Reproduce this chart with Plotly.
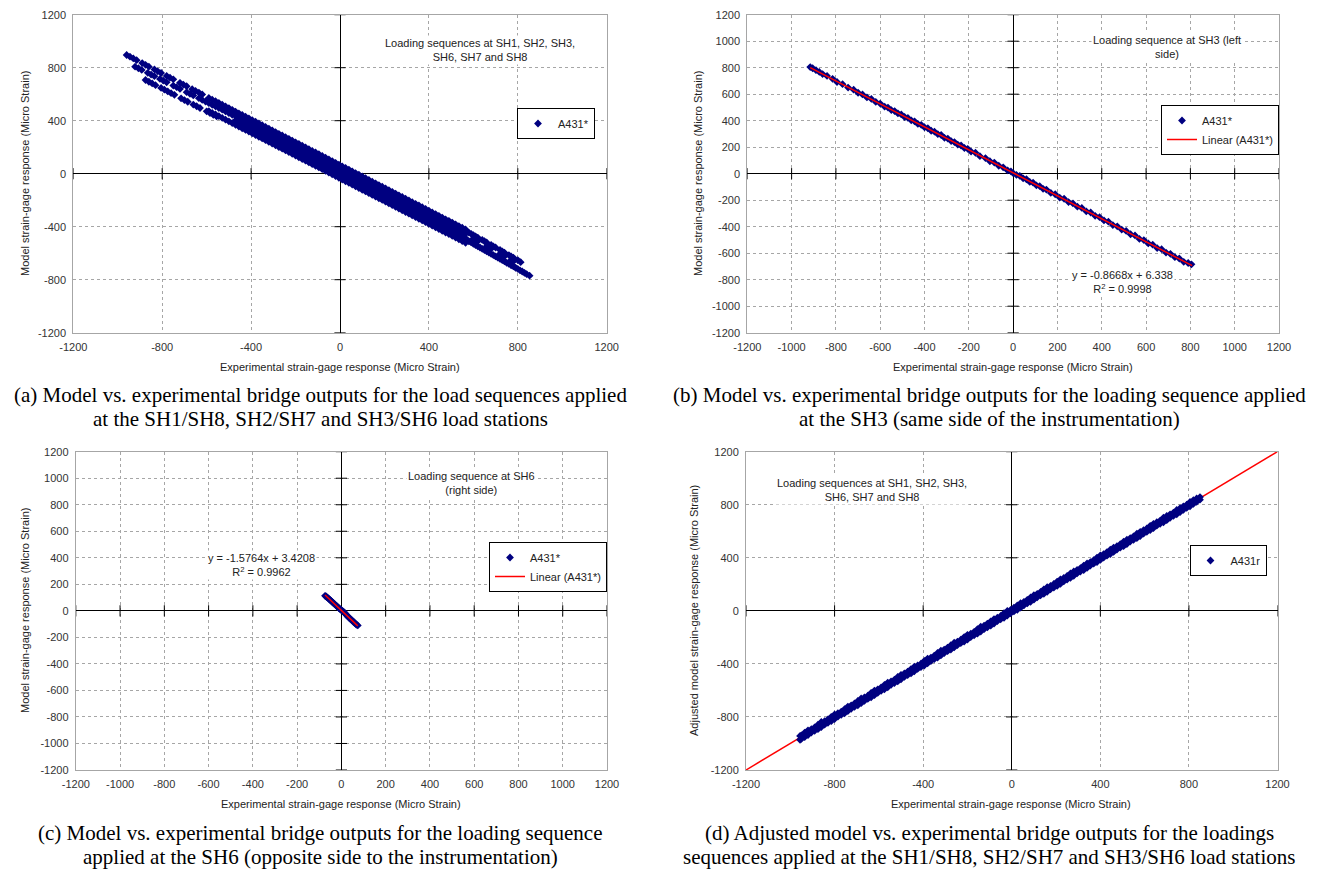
import plotly.graph_objects as go

W, H = 1324, 870

# ---------------- data ----------------
TICKS_400 = [-1200, -800, -400, 0, 400, 800, 1200]
TICKS_200 = [-1200, -1000, -800, -600, -400, -200, 0, 200, 400, 600, 800, 1000, 1200]

# (a) A431* -- three dashed strands at the upper left
a_s1_x = [-960, -945, -930, -915, -890, -875, -860, -835, -820, -805, -780, -765, -750, -720, -705, -690, -665, -650, -635, -620]
a_s1_y = [896, 883, 870, 857, 835, 822, 808, 787, 773, 760, 738, 725, 712, 686, 673, 660, 638, 625, 612, 598]
a_s2_x = [-922, -907, -892, -865, -850, -835, -810, -795, -780, -750, -735, -720, -690, -675, -660, -635, -620, -605, -590, -575,
          -560, -545, -530, -515, -500, -485]
a_s2_y = [808, 796, 783, 761, 748, 736, 715, 703, 690, 665, 653, 640, 615, 603, 591, 570, 557, 545, 532, 520,
          508, 495, 483, 470, 458, 445]
a_s3_x = [-875, -860, -845, -830, -805, -790, -775, -760, -745, -715, -700, -685, -660, -645, -630, -600, -585, -570, -555]
a_s3_y = [707, 694, 681, 668, 647, 634, 621, 608, 595, 569, 556, 543, 522, 509, 496, 471, 458, 445, 432]
# main band: outer rows (1 and 4) from x=-590, inner rows (2 and 3) from x=-470, two interleaved x sets
a_band_x = [-590, -560, -530, -500, -470, -440, -410, -380, -350, -320, -290, -260, -230, -200, -170, -140, -110, -80, -50, -20,
            10, 40, 70, 100, 130, 160, 190, 220, 250, 280, 310, 340, 370, 400, 430, 460, 490, 520, 550]
a_band_xs = [-575, -545, -515, -485, -455, -425, -395, -365, -335, -305, -275, -245, -215, -185, -155, -125, -95, -65, -35, -5,
             25, 55, 85, 115, 145, 175, 205, 235, 265, 295, 325, 355, 385, 415, 445, 475, 505, 535, 565]
a_in_x = [-470, -440, -410, -380, -350, -320, -290, -260, -230, -200, -170, -140, -110, -80, -50, -20,
          10, 40, 70, 100, 130, 160, 190, 220, 250, 280, 310, 340, 370, 400, 430, 460, 490, 520, 550]
a_in_xs = [-455, -425, -395, -365, -335, -305, -275, -245, -215, -185, -155, -125, -95, -65, -35, -5,
           25, 55, 85, 115, 145, 175, 205, 235, 265, 295, 325, 355, 385, 415, 445, 475, 505, 535, 565]
a_row1_at_x = [572, 547, 521, 495, 469, 443, 418, 392, 366, 340, 314, 289, 263, 237, 211, 185, 160, 134, 108, 82,
               56, 31, 5, -21, -47, -73, -98, -124, -150, -176, -202, -227, -253, -279, -305, -331, -356, -382, -408]
a_row1_at_xs = [559, 534, 508, 482, 456, 430, 405, 379, 353, 327, 301, 276, 250, 224, 198, 172, 147, 121, 95, 69,
                43, 18, -8, -34, -60, -86, -111, -137, -163, -189, -215, -240, -266, -292, -318, -344, -369, -395, -421]
a_row2_at_x = [436, 410, 385, 359, 333, 307, 281, 256, 230, 204, 178, 152, 127, 101, 75, 49,
               23, -2, -28, -54, -80, -106, -131, -157, -183, -209, -235, -260, -286, -312, -338, -364, -389, -415, -441]
a_row2_at_xs = [423, 397, 372, 346, 320, 294, 268, 243, 217, 191, 165, 139, 114, 88, 62, 36,
                10, -15, -41, -67, -93, -119, -144, -170, -196, -222, -248, -273, -299, -325, -351, -377, -402, -428, -454]
a_row3_at_x = [402, 376, 351, 325, 299, 273, 247, 222, 196, 170, 144, 118, 93, 67, 41, 15,
               -11, -36, -62, -88, -114, -140, -165, -191, -217, -243, -269, -294, -320, -346, -372, -398, -423, -449, -475]
a_row3_at_xs = [389, 363, 338, 312, 286, 260, 234, 209, 183, 157, 131, 105, 80, 54, 28, 2,
                -24, -49, -75, -101, -127, -153, -178, -204, -230, -256, -282, -307, -333, -359, -385, -411, -436, -462, -488]
a_row4_at_x = [472, 447, 421, 395, 369, 343, 318, 292, 266, 240, 214, 189, 163, 137, 111, 85, 60, 34, 8, -18,
               -44, -69, -95, -121, -147, -173, -198, -224, -250, -276, -302, -327, -353, -379, -405, -431, -456, -482, -508]
a_row4_at_xs = [459, 434, 408, 382, 356, 330, 305, 279, 253, 227, 201, 176, 150, 124, 98, 72, 47, 21, -5, -31,
                -57, -82, -108, -134, -160, -186, -211, -237, -263, -289, -315, -340, -366, -392, -418, -444, -469, -495, -521]
# lower-right strands
a_r1_x = [580, 590, 600, 610, 620, 640, 650, 660, 680, 690, 700, 720, 730, 740, 760, 770, 780, 800, 813]
a_r1_y = [-445, -454, -463, -473, -482, -500, -510, -519, -538, -548, -557, -576, -586, -595, -614, -624, -633, -652, -668]
a_r2_x = [600, 610, 620, 660, 670, 680, 720, 730, 740, 770, 780]
a_r2_y = [-490, -500, -509, -547, -557, -566, -604, -614, -623, -652, -662]
a_r3_x = [570, 580, 590, 600, 610, 620, 630, 640, 650, 660, 670, 680, 690, 700, 710, 720, 730, 740, 750, 760, 770, 780, 790,
          800, 810, 820, 830, 840, 853]
a_r3_y = [-500, -510, -519, -529, -538, -548, -557, -567, -576, -586, -595, -605, -614, -624, -634, -643, -653, -662, -672,
          -681, -691, -700, -710, -719, -729, -738, -748, -758, -770]

# (b) A431* and its linear trend
b_x = [-916, -905, -890, -875, -860, -840, -815, -795, -770, -745, -720, -700, -680, -660, -640, -620, -600, -580, -565, -550,
       -535, -520, -505, -490, -475, -460, -445, -430, -415, -400, -385, -370, -355, -340, -325, -310, -295, -280, -265, -250,
       -235, -220, -205, -190, -170, -150, -125, -105, -85, -65, -45, -25, -10, 0, 15, 30, 45, 60, 75, 90,
       105, 120, 135, 150, 170, 190, 210, 230, 250, 270, 290, 310, 330, 350, 370, 390, 410, 430, 450, 470,
       490, 510, 530, 550, 570, 590, 610, 630, 650, 670, 690, 710, 730, 750, 770, 790, 805]
b_y = [805, 796, 781, 768, 752, 738, 716, 692, 676, 650, 634, 611, 598, 576, 564, 542, 529, 506, 499, 480,
       473, 455, 447, 428, 421, 403, 395, 376, 369, 350, 343, 324, 317, 298, 292, 271, 265, 246, 239, 220,
       213, 194, 188, 167, 158, 132, 118, 94, 84, 60, 48, 25, 17, 4, -9, -16, -35, -42, -62, -68,
       -88, -94, -114, -120, -145, -155, -180, -189, -214, -224, -249, -258, -284, -293, -318, -328, -353, -362, -388, -397,
       -422, -432, -457, -466, -492, -501, -526, -536, -561, -570, -595, -605, -630, -640, -665, -674, -684]
b_fit_x = [-916, 808]
b_fit_y = [800, -694]

# (c) A431* and its linear trend
c_x = [-74, -70, -66, -62, -58, -54, -50, -46, -42, -38, -34, -30, -26, -22, -18, -14, -10, -6, -2,
       2, 6, 10, 14, 18, 22, 26, 30, 34, 38, 42, 46, 50, 54, 58, 62, 66, 70, 74]
c_y = [113, 110, 103, 99, 92, 86, 80, 75, 68, 62, 56, 50, 43, 38, 31, 25, 18, 13, 7,
       3, -2, -8, -14, -22, -30, -37, -44, -50, -56, -63, -69, -76, -82, -88, -95, -101, -106, -110]
c_fit_x = [-74, 74]
c_fit_y = [120, -113]

# (d) A431r and the 1:1 line: two interleaved x sets, upper and lower row at each
d_x1 = [-950, -920, -890, -860, -830, -800, -770, -740, -710, -680, -650, -620, -590, -560, -530, -500, -470, -440, -410, -380,
        -350, -320, -290, -260, -230, -200, -170, -140, -110, -80, -50, -20, 10, 40, 70, 100, 130, 160, 190, 220,
        250, 280, 310, 340, 370, 400, 430, 460, 490, 520, 550, 580, 610, 640, 670, 700, 730, 760, 790, 820, 850]
d_x2 = [-956, -935, -905, -875, -845, -815, -785, -755, -725, -695, -665, -635, -605, -575, -545, -515, -485, -455, -425, -395,
        -365, -335, -305, -275, -245, -215, -185, -155, -125, -95, -65, -35, -5, 25, 55, 85, 115, 145, 175, 205,
        235, 265, 295, 325, 355, 385, 415, 445, 475, 505, 535, 565, 595, 625, 655, 685, 715, 745, 775, 805, 835]
d_up_at_x1 = [-940, -901, -878, -838, -818, -781, -760, -722, -698, -661, -640, -601, -578, -541, -519, -482, -458, -421, -398, -360,
              -338, -300, -277, -240, -218, -181, -158, -120, -96, -62, -38, -1, 24, 58, 83, 118, 142, 178, 203, 238,
              263, 297, 322, 357, 383, 418, 443, 477, 502, 537, 562, 596, 621, 656, 681, 716, 740, 774, 800, 834, 858]
d_up_at_x2 = [-943, -918, -892, -858, -832, -799, -772, -741, -712, -679, -652, -618, -592, -559, -532, -498, -472, -439, -412, -378,
              -352, -318, -292, -259, -232, -198, -172, -138, -112, -79, -52, -18, 8, 41, 68, 101, 128, 162, 188, 221,
              248, 282, 308, 341, 368, 402, 428, 461, 488, 521, 548, 582, 608, 641, 668, 702, 728, 761, 788, 821, 848]
d_lo_at_x1 = [-966, -936, -904, -876, -844, -816, -784, -756, -724, -696, -664, -636, -604, -576, -544, -516, -484, -456, -424, -396,
              -364, -336, -304, -276, -244, -216, -184, -156, -124, -96, -64, -36, -4, 24, 56, 84, 116, 144, 176, 204,
              236, 264, 296, 324, 356, 384, 416, 444, 476, 504, 536, 564, 596, 624, 656, 684, 716, 744, 776, 806, 838]
d_lo_at_x2 = [-972, -952, -918, -892, -858, -832, -798, -772, -738, -712, -678, -652, -618, -592, -558, -532, -498, -472, -438, -412,
              -378, -352, -318, -292, -258, -232, -198, -172, -138, -112, -78, -52, -18, 8, 42, 68, 102, 128, 162, 188,
              222, 248, 282, 308, 342, 368, 402, 428, 462, 488, 522, 548, 582, 608, 642, 668, 702, 728, 762, 788, 822]
d_line_x = [-1200, 1200]
d_line_y = [-1200, 1200]

# ---------------- assemble ----------------
a_x = (a_s1_x + a_s2_x + a_s3_x
       + a_band_x + a_band_xs + a_in_x + a_in_xs + a_in_x + a_in_xs + a_band_x + a_band_xs
       + a_r1_x + a_r2_x + a_r3_x)
a_y = (a_s1_y + a_s2_y + a_s3_y
       + a_row1_at_x + a_row1_at_xs + a_row2_at_x + a_row2_at_xs
       + a_row3_at_x + a_row3_at_xs + a_row4_at_x + a_row4_at_xs
       + a_r1_y + a_r2_y + a_r3_y)
d_xx = d_x1 + d_x2 + d_x1 + d_x2
d_yy = d_up_at_x1 + d_up_at_x2 + d_lo_at_x1 + d_lo_at_x2

SANS = "Liberation Sans, Arial, sans-serif"
SERIF = "Liberation Serif, Times New Roman, serif"
NAVY = "#000080"
TXT = "#222222"
GRID = "#a6a6a6"


def fx(px):
    return px / W


def fy(py):
    return 1 - py / H


# plot-area rectangles in pixels: left, right, top, bottom
RECTS = [(73.3, 606.7, 14.7, 332.7),
         (747.3, 1279.0, 14.7, 332.7),
         (75.8, 607.0, 451.7, 770.0),
         (746.0, 1277.5, 451.7, 770.0)]
TICKSETS = [TICKS_400, TICKS_200, TICKS_200, TICKS_400]

fig = go.Figure()
mk = dict(symbol="diamond", size=6, color=NAVY, line=dict(width=0))

# small tick marks sitting on the zero axes (Excel style), drawn first
for i, tv in enumerate(TICKSETS, start=1):
    sx = "" if i == 1 else str(i)
    tx = [v for v in tv if v != 0]
    fig.add_trace(go.Scatter(x=tx, y=[0] * len(tx), mode="markers", showlegend=False, hoverinfo="skip",
                             marker=dict(symbol="line-ns", size=8, line=dict(color="black", width=1)),
                             xaxis="x" + sx, yaxis="y" + sx))
    fig.add_trace(go.Scatter(x=[0] * len(tx), y=tx, mode="markers", showlegend=False, hoverinfo="skip",
                             marker=dict(symbol="line-ew", size=8, line=dict(color="black", width=1)),
                             xaxis="x" + sx, yaxis="y" + sx))

# (a)
fig.add_trace(go.Scatter(x=a_x, y=a_y, mode="markers", marker=mk, name="A431*",
                         xaxis="x", yaxis="y", legend="legend"))
# (b)
fig.add_trace(go.Scatter(x=b_x, y=b_y, mode="markers", marker=mk, name="A431*",
                         xaxis="x2", yaxis="y2", legend="legend2"))
fig.add_trace(go.Scatter(x=b_fit_x, y=b_fit_y, mode="lines", line=dict(color="#ff0000", width=1.5),
                         name="Linear (A431*)", xaxis="x2", yaxis="y2", legend="legend2"))
# (c)
fig.add_trace(go.Scatter(x=c_x, y=c_y, mode="markers", marker=mk, name="A431*",
                         xaxis="x3", yaxis="y3", legend="legend3"))
fig.add_trace(go.Scatter(x=c_fit_x, y=c_fit_y, mode="lines", line=dict(color="#ff0000", width=1.5),
                         name="Linear (A431*)", xaxis="x3", yaxis="y3", legend="legend3"))
# (d)
fig.add_trace(go.Scatter(x=d_line_x, y=d_line_y, mode="lines", line=dict(color="#ff0000", width=1.5),
                         showlegend=False, xaxis="x4", yaxis="y4", hoverinfo="skip"))
fig.add_trace(go.Scatter(x=d_xx, y=d_yy, mode="markers", marker=mk, name="A431r",
                         xaxis="x4", yaxis="y4", legend="legend4"))

layout = dict(template="none", width=W, height=H, margin=dict(l=0, r=0, t=0, b=0, autoexpand=False),
              paper_bgcolor="white", plot_bgcolor="white",
              font=dict(family=SANS, size=11, color=TXT), showlegend=True)

for i, ((l, r, t, b), tv) in enumerate(zip(RECTS, TICKSETS), start=1):
    sx = "" if i == 1 else str(i)
    common = dict(range=[-1200, 1200], tickvals=tv, ticktext=[str(v) for v in tv], automargin=False,
                  showgrid=True, gridcolor=GRID, griddash="dot", gridwidth=1,
                  zeroline=True, zerolinecolor="black", zerolinewidth=1,
                  showline=True, linecolor=GRID, linewidth=1, mirror=True,
                  ticks="outside", ticklen=4, tickcolor="rgba(0,0,0,0)",
                  tickfont=dict(family=SANS, size=11, color="#333333"), fixedrange=True)
    layout["xaxis" + sx] = dict(common, domain=[fx(l), fx(r)], anchor="y" + sx)
    layout["yaxis" + sx] = dict(common, domain=[fy(b), fy(t)], anchor="x" + sx)

leg = dict(bordercolor="black", borderwidth=1, bgcolor="white",
           font=dict(family=SANS, size=11, color=TXT), itemwidth=30, tracegroupgap=0)
layout["legend"] = dict(leg, x=fx(556), y=fy(123.5), xanchor="center", yanchor="middle")
layout["legend2"] = dict(leg, x=fx(1279), y=fy(105), xanchor="right", yanchor="top")
layout["legend3"] = dict(leg, x=fx(607), y=fy(542), xanchor="right", yanchor="top")
layout["legend4"] = dict(leg, x=fx(1228), y=fy(560.5), xanchor="center", yanchor="middle")

ann = []


def note(px, py, text, size=11, bg="white", family=SANS, color=TXT, angle=0):
    ann.append(dict(x=fx(px), y=fy(py), xref="paper", yref="paper", text=text, showarrow=False,
                    xanchor="center", yanchor="middle", align="center", bgcolor=bg, textangle=angle,
                    font=dict(family=family, size=size, color=color)))


xt = "Experimental strain-gage response (Micro Strain)"
yt = "Model strain-gage response (Micro Strain)"
note(340, 367, xt, bg=None)
note(1013, 367, xt, bg=None)
note(341, 804, xt, bg=None)
note(1011, 804, xt, bg=None)
note(25, 174, yt, bg=None, angle=-90)
note(698, 174, yt, bg=None, angle=-90)
note(25, 611, yt, bg=None, angle=-90)
note(694, 611, "Adjusted model strain-gage response (Micro Strain)", bg=None, angle=-90)

note(480, 50, "Loading sequences at SH1, SH2, SH3,<br>SH6, SH7 and SH8")
note(1167, 47, "Loading sequence at SH3 (left<br>side)")
note(471, 483, "Loading sequence at SH6<br>(right side)")
note(872, 490, "Loading sequences at SH1, SH2, SH3,<br>SH6, SH7 and SH8")
note(1122, 282, "y = -0.8668x + 6.338<br>R<sup>2</sup> = 0.9998")
note(261, 565, "y = -1.5764x + 3.4208<br>R<sup>2</sup> = 0.9962")

CAP = dict(size=21, bg=None, family=SERIF, color="black")
note(320, 395, "(a) Model vs. experimental bridge outputs for the load sequences applied", **CAP)
note(320, 419, "at the SH1/SH8, SH2/SH7 and SH3/SH6 load stations", **CAP)
note(989, 395, "(b) Model vs. experimental bridge outputs for the loading sequence applied", **CAP)
note(989, 419, "at the SH3 (same side of the instrumentation)", **CAP)
note(320, 833, "(c) Model vs. experimental bridge outputs for the loading sequence", **CAP)
note(320, 857, "applied at the SH6 (opposite side to the instrumentation)", **CAP)
note(989, 833, "(d) Adjusted model vs. experimental bridge outputs for the loadings", **CAP)
note(989, 857, "sequences applied at the SH1/SH8, SH2/SH7 and SH3/SH6 load stations", **CAP)

layout["annotations"] = ann
fig.update_layout(**layout)
fig.write_html("out.html")
